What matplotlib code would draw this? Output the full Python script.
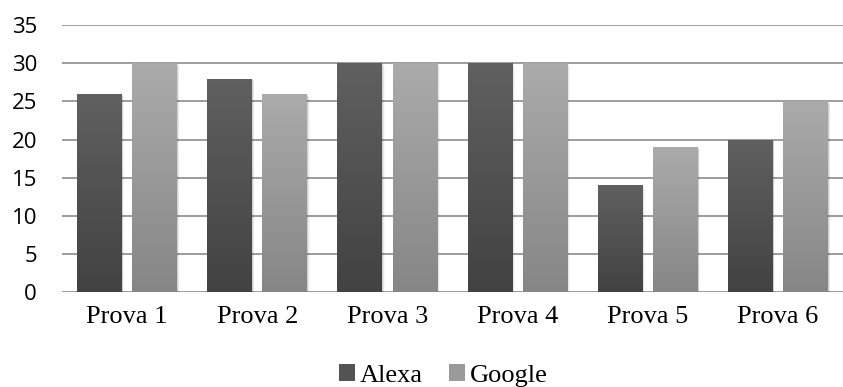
import matplotlib.pyplot as plt
import numpy as np
from matplotlib.patches import Rectangle, Patch

categories = ["Prova 1", "Prova 2", "Prova 3", "Prova 4", "Prova 5", "Prova 6"]
alexa = [26, 28, 30, 30, 14, 20]
google = [30, 26, 30, 30, 19, 25]
yticks = [0, 5, 10, 15, 20, 25, 30, 35]

# top and bottom shades of each series' vertical gradient
alexa_shades = ("#606060", "#424242")
google_shades = ("#ababab", "#868686")

fig = plt.figure(figsize=(8.43, 3.87), dpi=100)
ax = fig.add_axes([0.0735, 0.2455, 0.9265, 0.6895])

x = np.arange(len(categories))
width = 0.345
offset = 0.212

def gradient_bars(xs, heights, shades):
    bars = ax.bar(xs, heights, width, color="none", zorder=3)
    top = np.array(plt.matplotlib.colors.to_rgb(shades[0]))
    bot = np.array(plt.matplotlib.colors.to_rgb(shades[1]))
    for b in bars:
        x0, h, w = b.get_x(), b.get_height(), b.get_width()
        # soft shadow to the right/bottom
        for k, a in enumerate([0.10, 0.06, 0.03]):
            ax.add_patch(Rectangle((x0 + 0.006 * (k + 1), -0.12 * (k + 1)), w, h,
                                   facecolor="black", alpha=a, lw=0, zorder=2))
        t = np.linspace(0, 1, 256)[:, None]
        img = top * (1 - t[..., None]) + bot * t[..., None]
        img = np.repeat(img, 2, axis=1)
        im = ax.imshow(img, extent=(x0, x0 + w, 0, h), origin="upper",
                       aspect="auto", zorder=4, interpolation="bilinear")
        im.set_clip_path(b)
    return bars

gradient_bars(x - offset, alexa, alexa_shades)
gradient_bars(x + offset, google, google_shades)

ax.set_xlim(-0.5, len(categories) - 0.5)
ax.set_ylim(0, 35)
ax.set_yticks(yticks, [str(v) for v in yticks], fontfamily="Open Sans", fontsize=16)
ax.yaxis.grid(True, color="#8c8c8c", linewidth=1.2, zorder=1)
ax.set_axisbelow(True)
for s in ax.spines.values():
    s.set_visible(False)

ax.set_xticks(x, categories, fontfamily="Liberation Serif", fontsize=19)
ax.tick_params(axis="y", length=0, pad=18)
ax.tick_params(axis="x", length=0, pad=10)

handles = [Patch(facecolor="#535353", label="Alexa"),
           Patch(facecolor="#9a9a9a", label="Google")]
fig.legend(handles=handles, loc="center", bbox_to_anchor=(0.526, 0.03), ncol=2,
           frameon=False, prop={"family": "Liberation Serif", "size": 19},
           handlelength=0.6, handleheight=0.6, handletextpad=0.2, columnspacing=1.0,
           borderpad=0)

fig.savefig("out.png", dpi=100)
